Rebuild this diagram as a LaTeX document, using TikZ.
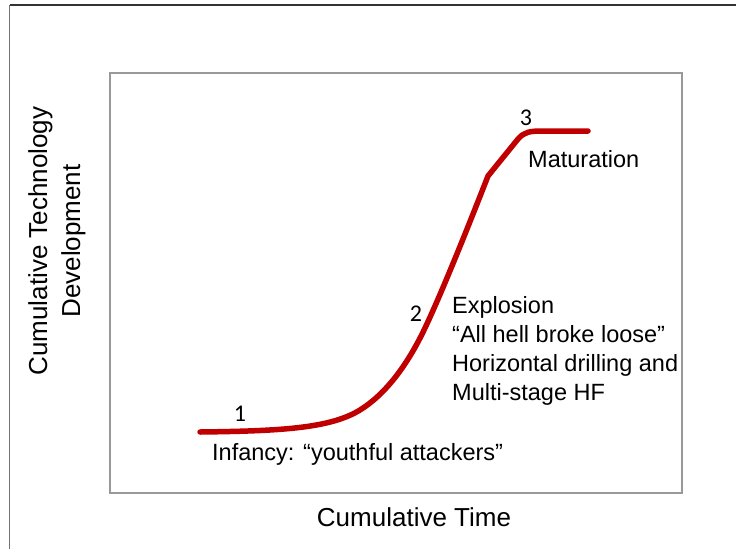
\documentclass[tikz,border=0pt]{standalone}
\usepackage{fontspec}
\setmainfont{Liberation Sans}
\newfontfamily\numfont{Carlito}
\begin{document}
\begin{tikzpicture}[x=1pt,y=-1pt,
  frameline/.style={line width=1.4pt},
  plotbox/.style={draw=black!40,line width=1.5pt},
  scurve/.style={draw=curvered,line width=5.5pt,line cap=round,line join=round},
  note/.style={font=\fontsize{23.5}{29}\selectfont,anchor=base west,inner sep=0pt,align=left},
  axislabel/.style={font=\fontsize{26}{33}\selectfont,inner sep=0pt,align=center},
  stage/.style={font=\numfont\fontsize{24}{28}\selectfont,inner sep=0pt,anchor=base}]
\definecolor{curvered}{RGB}{192,0,0}
\useasboundingbox (0,0) rectangle (736,549);
% slide edge
\draw[frameline,draw=black!80] (9.5,5) -- (736,5);
\draw[frameline,draw=black!55] (9.5,5) -- (9.5,549);
% plot area
\draw[plotbox] (110,73) rectangle (682,493);
% growth curve
\draw[scurve] (200,432) .. controls (280,431) and (330,428.5) .. (360,410)
  .. controls (385,394.5) and (407,366) .. (425,328)
  .. controls (443,290) and (470,222) .. (488,176)
  -- (518,139) .. controls (524,132) and (530,131) .. (542,131) -- (588,131);
% stage numbers
\node[stage] (n1) at (240,421) {1};
\node[stage] (n2) at (416,321) {2};
\node[stage] (n3) at (526,125) {3};
% stage descriptions
\node[note] (mat) at (528,167) {Maturation};
\node[note] (exp) at (452,400) {Explosion\\“All hell broke loose”\\Horizontal drilling and\\Multi-stage HF};
\node[note] (inf) at (212,460) {Infancy: “youthful attackers”};
% axis labels
\node[axislabel] (xlab) at (414,517) {Cumulative Time};
\node[axislabel,rotate=90] (ylab) at (57,241) {Cumulative Technology\\Development};
\end{tikzpicture}
\end{document}
